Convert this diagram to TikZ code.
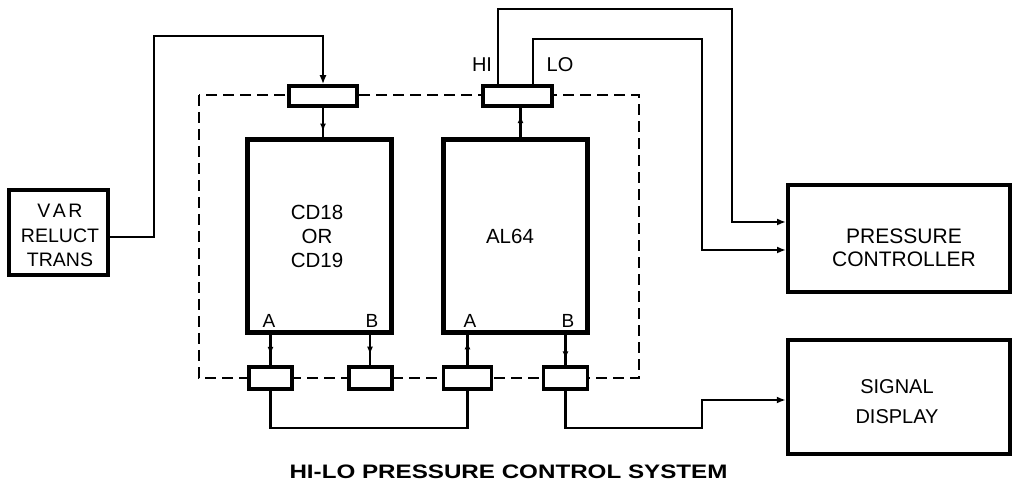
\documentclass[tikz,border=0pt]{standalone}
\usepackage{fontspec}
\setmainfont{Liberation Sans}
\usepackage{graphicx}
\usetikzlibrary{arrows.meta,calc}
\begin{document}
\begin{tikzpicture}[x=1pt,y=-1pt,
  box/.style={draw,fill=white,inner sep=0pt},
  conn/.style={line width=2.5pt},
  tip/.style={-{Latex[length=9pt,width=7pt]}},
  midtip/.style={-{Latex[length=8pt,width=6pt]}},
  txt/.style={font=\fontsize{20}{24}\selectfont,align=center,inner sep=0pt},
  lbl/.style={font=\fontsize{19}{22}\selectfont,inner sep=0pt},
]
\useasboundingbox (0,0) rectangle (1013,481);
% dashed enclosure
\draw[dash pattern=on 11pt off 6pt, line width=1.6pt] (199,95) rectangle (639,378);
% boxes
\node[box,line width=4pt,minimum width=99pt,minimum height=85pt] (var) at (58.5,232.5) {};
\node[box,line width=5pt,minimum width=144pt,minimum height=193pt] (cd) at (319,236.5) {};
\node[box,line width=5pt,minimum width=144pt,minimum height=193pt] (al) at (515,236.5) {};
\node[box,line width=3.5pt,minimum width=68pt,minimum height=20pt] (t1) at (323,96) {};
\node[box,line width=3.5pt,minimum width=69pt,minimum height=20pt] (t2) at (517.5,96) {};
\node[box,line width=3.5pt,minimum width=43pt,minimum height=22pt] (b1) at (270.5,378) {};
\node[box,line width=4pt,minimum width=43pt,minimum height=22pt] (b2) at (370,378) {};
\node[box,line width=3.5pt,minimum width=48pt,minimum height=22pt] (b3) at (467.5,378) {};
\node[box,line width=3.5pt,minimum width=44pt,minimum height=22pt] (b4) at (565.5,378) {};
\node[box,line width=4pt,minimum width=222pt,minimum height=107pt] (pc) at (899,238.5) {};
\node[box,line width=4.5pt,minimum width=222pt,minimum height=114pt] (sd) at (899,397) {};
% texts
\node[txt,font=\fontsize{19.5}{24.5}\selectfont] (vart) at (60,235.5) {V\kern2.5pt A\kern2.5pt R\\RELUCT\\TRANS};
\node[txt,font=\fontsize{20.5}{24}\selectfont] (cdt) at (317,236.5) {CD18\\OR\\CD19};
\node[txt,font=\fontsize{20.5}{24}\selectfont] (alt) at (510,236.5) {AL64};
\node[txt,font=\fontsize{21}{22.5}\selectfont] (pct) at (904,248) {PRESSURE\\CONTROLLER};
\node[txt,font=\fontsize{20}{30}\selectfont] (sdt) at (897,401.5) {SIGNAL\\DISPLAY};
\node[txt] (hi) at (482,64.5) {HI};
\node[txt] (lo) at (560,64.5) {LO};
\node[lbl] (a1) at (269,321) {A};
\node[lbl] (bb1) at (372,321) {B};
\node[lbl] (a2) at (470,321) {A};
\node[lbl] (bb2) at (568,321) {B};
\node[font=\bfseries\fontsize{19.5}{20}\selectfont,inner sep=0pt] (title) at (508.5,471.5) {\scalebox{1.24}[1]{HI-LO PRESSURE CONTROL SYSTEM}};
% connector anchor points
\coordinate (u1) at (t1.south);
\coordinate (u2) at ([xshift=3pt]t2.south);
% connectors
\draw[conn,tip] (var.east |- 0,237) -| (154,36) -| (t1.north);
\draw[conn] (u1) -- (u1 |- cd.north);
\draw[conn,midtip] (u1) -- ($(u1)!0.8!(u1 |- cd.north)$);
\draw[conn] (u2 |- al.north) -- (u2);
\draw[conn,midtip] (u2 |- al.north) -- ($(u2 |- al.north)!0.75!(u2)$);
\draw[line width=2pt,tip] ([xshift=-19.5pt]t2.north) |- (732,9) |- ([yshift=16.5pt]pc.west);
\draw[line width=2pt,tip] ([xshift=15.5pt]t2.north) |- (702,39) |- ([yshift=-11.5pt]pc.west);
\draw[conn] (b1.north |- cd.south) -- (b1.north);
\draw[conn,midtip] (b1.north |- cd.south) -- ($(b1.north |- cd.south)!0.65!(b1.north)$);
\draw[conn] (b2.north |- cd.south) -- (b2.north);
\draw[conn,midtip] (b2.north |- cd.south) -- ($(b2.north |- cd.south)!0.65!(b2.north)$);
\draw[conn] (b3.north) -- (b3.north |- al.south);
\draw[conn,midtip] (b3.north) -- ($(b3.north)!0.8!(b3.north |- al.south)$);
\draw[conn] (b4.north |- al.south) -- (b4.north);
\draw[conn,midtip] (b4.north |- al.south) -- ($(b4.north |- al.south)!0.8!(b4.north)$);
\draw[conn] (b1.south) -- (b1.south |- 0,428) -| (b3.south);
\draw[conn,tip] (b4.south) |- (702,428) |- ([yshift=-3pt]sd.west);
\end{tikzpicture}
\end{document}
